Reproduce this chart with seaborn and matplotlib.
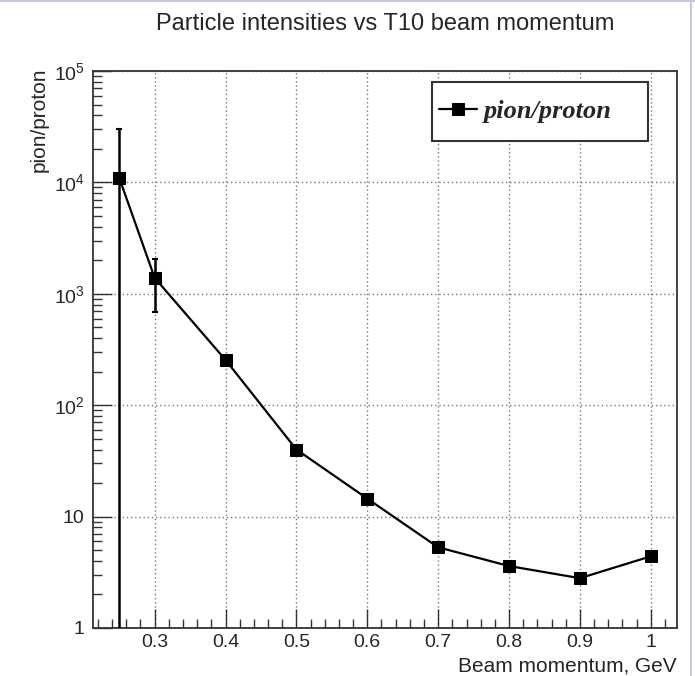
import numpy as np
import pandas as pd
import matplotlib
matplotlib.use("Agg")
import matplotlib.pyplot as plt
import matplotlib.ticker as mticker
from matplotlib.patches import Rectangle
import seaborn as sns

# ---- data ----
momentum = [0.25, 0.3, 0.4, 0.5, 0.6, 0.7, 0.8, 0.9, 1.0]
ratio = [1.1e4, 1.39e3, 255, 40, 14.5, 5.3, 3.6, 2.8, 4.4]
err_low = [1.1e4, 700, 0, 0, 0, 0, 0, 0, 0]
err_high = [1.9e4, 680, 0, 0, 0, 0, 0, 0, 0]
series_label = "pion/proton"
title = "Particle intensities vs T10 beam momentum"
xlabel = "Beam momentum, GeV"
ylabel = "pion/proton"
xticks = [0.3, 0.4, 0.5, 0.6, 0.7, 0.8, 0.9, 1.0]
xticklabels = ["0.3", "0.4", "0.5", "0.6", "0.7", "0.8", "0.9", "1"]
yticks = [1, 10, 1e2, 1e3, 1e4, 1e5]
yticklabels = ["1", "10", "$10^{2}$", "$10^{3}$", "$10^{4}$", "$10^{5}$"]

df = pd.DataFrame({"momentum": momentum, "ratio": ratio})

sns.set_theme(style="ticks")
plt.rcParams["font.family"] = ["Liberation Sans", "DejaVu Sans"]
plt.rcParams["mathtext.fontset"] = "custom"
plt.rcParams["mathtext.rm"] = "Liberation Sans"
plt.rcParams["mathtext.it"] = "Liberation Sans:italic"

W, H = 695, 676
fig = plt.figure(figsize=(W / 100, H / 100), dpi=100)
L, R, T, B = 93, 677, 71, 628
ax = fig.add_axes([L / W, 1 - B / H, (R - L) / W, (B - T) / H])

# error bars (lower bound of the first point goes off-axis)
lo = np.array(err_low, dtype=float)
lo = np.minimum(lo, np.array(ratio) - 0.3)
ax.errorbar(momentum, ratio, yerr=[lo, err_high], fmt="none", ecolor="black",
            elinewidth=1.8, capsize=2.5, capthick=1.5, zorder=3)

sns.lineplot(data=df, x="momentum", y="ratio", ax=ax, color="black", lw=1.6,
             marker="s", markersize=8.5, markeredgecolor="black",
             markerfacecolor="black", label=series_label, zorder=4)

ax.set_yscale("log")
ax.set_xlim(0.213, 1.037)
ax.set_ylim(1, 1e5)

ax.yaxis.set_major_locator(mticker.FixedLocator(yticks))
ax.yaxis.set_major_formatter(mticker.FixedFormatter(yticklabels))
ax.yaxis.set_minor_locator(mticker.LogLocator(base=10, subs=np.arange(2, 10)))
ax.yaxis.set_minor_formatter(mticker.NullFormatter())
ax.xaxis.set_major_locator(mticker.FixedLocator(xticks))
ax.xaxis.set_major_formatter(mticker.FixedFormatter(xticklabels))
ax.xaxis.set_minor_locator(mticker.MultipleLocator(0.02))

ax.tick_params(axis="both", which="major", direction="in", length=14, width=1,
               labelsize=14, color="#333333", top=False, right=False)
ax.tick_params(axis="both", which="minor", direction="in", length=6.5, width=1,
               color="#333333", top=False, right=False)
ax.tick_params(axis="x", pad=4)
ax.tick_params(axis="y", pad=6)

ax.grid(True, which="major", linestyle=(0, (1, 2)), color="#777777", lw=1)
ax.set_axisbelow(True)
for s in ax.spines.values():
    s.set_visible(True)
    s.set_color("#333333")
    s.set_linewidth(1.3)

ax.set_xlabel(xlabel, fontsize=15)
ax.xaxis.set_label_coords(1.0, -(666 - B) / (B - T))
ax.xaxis.label.set_horizontalalignment("right")
ax.xaxis.label.set_verticalalignment("center")

ax.set_ylabel(ylabel, fontsize=15)
ax.yaxis.set_label_coords((39 - L) / (R - L), (B - 68) / (B - T))
ax.yaxis.label.set_rotation_mode("anchor")
ax.yaxis.label.set_horizontalalignment("right")
ax.yaxis.label.set_verticalalignment("center")

# legend: fixed box like ROOT's TLegend
ax.add_patch(Rectangle((432 / W, 1 - 141 / H), 216 / W, 59 / H,
                       transform=fig.transFigure, facecolor="white",
                       edgecolor="#333333", lw=1.5, clip_on=False, zorder=5))
leg = ax.legend(loc="center left", bbox_to_anchor=(439 / W, 1 - 111.5 / H),
                bbox_transform=fig.transFigure, frameon=False,
                borderpad=0, handlelength=1.45, handletextpad=0.25,
                borderaxespad=0,
                prop={"family": "Liberation Serif", "style": "italic",
                      "weight": "bold", "size": 19})
leg.set_zorder(6)

fig.text(385 / W, 1 - 24 / H, title, ha="center", va="center", fontsize=17)

# screenshot frame lines
fig.add_artist(plt.Line2D([0, 1], [0.999, 0.999], transform=fig.transFigure,
                          color="#c8c8dc", lw=1.5))
fig.add_artist(plt.Line2D([0.994, 0.994], [0, 1], transform=fig.transFigure,
                          color="#c8c8dc", lw=1.5))

fig.savefig("out.png", dpi=100, facecolor="white")
